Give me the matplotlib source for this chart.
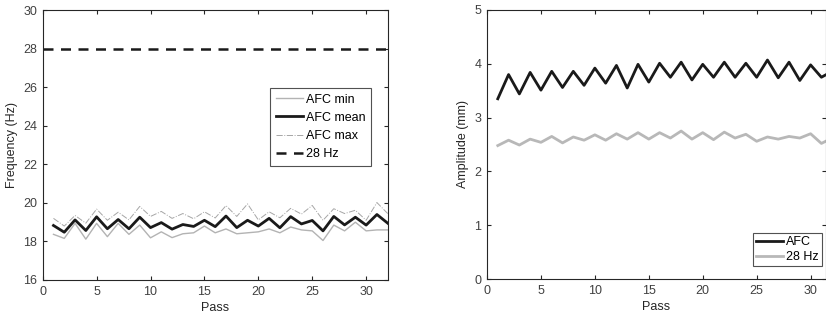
import numpy as np
import matplotlib
matplotlib.use("Agg")
import matplotlib.pyplot as plt

plt.rcParams['font.family'] = ['Liberation Sans', 'DejaVu Sans']
plt.rcParams['font.size'] = 9

passes = np.arange(1, 33)

# left panel: frequency (Hz)
afc_min = [18.37, 18.16, 18.94, 18.12, 18.94, 18.25, 18.94, 18.37, 18.85, 18.19,
           18.5, 18.2, 18.4, 18.45, 18.8, 18.45, 18.65, 18.4, 18.45, 18.5,
           18.65, 18.45, 18.75, 18.6, 18.55, 18.05, 18.85, 18.55, 19.0, 18.55,
           18.6, 18.6]
afc_mean = [18.83, 18.48, 19.12, 18.57, 19.28, 18.66, 19.14, 18.66, 19.26, 18.72,
            18.98, 18.64, 18.88, 18.78, 19.1, 18.77, 19.32, 18.72, 19.1, 18.8,
            19.2, 18.71, 19.29, 18.91, 19.09, 18.55, 19.3, 18.86, 19.26, 18.85,
            19.4, 18.95]
afc_max = [19.2, 18.8, 19.35, 18.95, 19.68, 19.1, 19.52, 19.12, 19.82, 19.3,
           19.56, 19.2, 19.45, 19.18, 19.54, 19.22, 19.86, 19.3, 19.95, 19.12,
           19.54, 19.23, 19.72, 19.42, 19.87, 19.1, 19.7, 19.45, 19.62, 19.1,
           20.02, 19.45]
ref_freq = 28

# right panel: amplitude (mm)
amp_afc = [3.35, 3.80, 3.44, 3.84, 3.51, 3.86, 3.56, 3.86, 3.60, 3.92,
           3.64, 3.97, 3.55, 3.99, 3.66, 4.01, 3.75, 4.03, 3.70, 3.99,
           3.75, 4.03, 3.75, 4.01, 3.75, 4.07, 3.74, 4.03, 3.69, 3.98,
           3.75, 3.86]
amp_28 = [2.48, 2.58, 2.49, 2.60, 2.54, 2.65, 2.53, 2.64, 2.58, 2.68,
          2.58, 2.70, 2.60, 2.72, 2.60, 2.72, 2.62, 2.75, 2.60, 2.72,
          2.59, 2.73, 2.62, 2.69, 2.56, 2.64, 2.60, 2.65, 2.62, 2.70,
          2.52, 2.62]

axcol = '#262626'

fig = plt.figure(figsize=(8.26, 3.23), dpi=100)
ax1 = fig.add_axes([42.7 / 826, 43 / 323, 345 / 826, 269.7 / 323])
ax2 = fig.add_axes([487 / 826, 44 / 323, 338.7 / 826, 269 / 323])


def style(ax):
    ax.tick_params(direction='in', top=True, right=True, colors=axcol,
                   labelcolor='#404040', length=3, width=0.8, labelsize=9, pad=4)
    for s in ax.spines.values():
        s.set_color(axcol)
        s.set_linewidth(0.8)


ax1.plot(passes, afc_min, color='#b3b3b3', lw=1.0, label='AFC min')
ax1.plot(passes, afc_mean, color='#1a1a1a', lw=2.0, label='AFC mean')
ax1.plot(passes, afc_max, color='#a6a6a6', lw=0.7, ls='-.', label='AFC max')
ax1.axhline(ref_freq, color='#1a1a1a', lw=1.8, ls=(0, (4, 3)), label='28 Hz')
ax1.set_xlim(0, 32)
ax1.set_ylim(16, 30)
ax1.set_xticks([0, 5, 10, 15, 20, 25, 30])
ax1.set_yticks(np.arange(16, 31, 2))
ax1.set_xlabel('Pass', color='#262626', labelpad=3)
ax1.set_ylabel('Frequency (Hz)', color='#262626', labelpad=4)
style(ax1)
leg1 = ax1.legend(loc='upper right', bbox_to_anchor=(0.951, 0.712), frameon=True,
                  fancybox=False, handlelength=2.2, handletextpad=0.2,
                  borderpad=0.45, labelspacing=0.5, borderaxespad=0, fontsize=9)
leg1.get_frame().set_edgecolor(axcol)
leg1.get_frame().set_linewidth(0.8)

ax2.plot(passes, amp_afc, color='#1a1a1a', lw=2.0, label='AFC')
ax2.plot(passes, amp_28, color='#b8b8b8', lw=2.0, label='28 Hz')
ax2.set_xlim(0, 31.4)
ax2.set_ylim(0, 5)
ax2.set_xticks([0, 5, 10, 15, 20, 25, 30])
ax2.set_yticks(np.arange(0, 6, 1))
ax2.set_xlabel('Pass', color='#262626', labelpad=3)
ax2.set_ylabel('Amplitude (mm)', color='#262626', labelpad=4)
style(ax2)
leg2 = ax2.legend(loc='lower right', bbox_to_anchor=(0.988, 0.048), frameon=True,
                  fancybox=False, handlelength=2.2, handletextpad=0.2,
                  borderpad=0.25, labelspacing=0.2, borderaxespad=0, fontsize=9)
leg2.get_frame().set_edgecolor(axcol)
leg2.get_frame().set_linewidth(0.8)

fig.savefig('out.png', dpi=100)
